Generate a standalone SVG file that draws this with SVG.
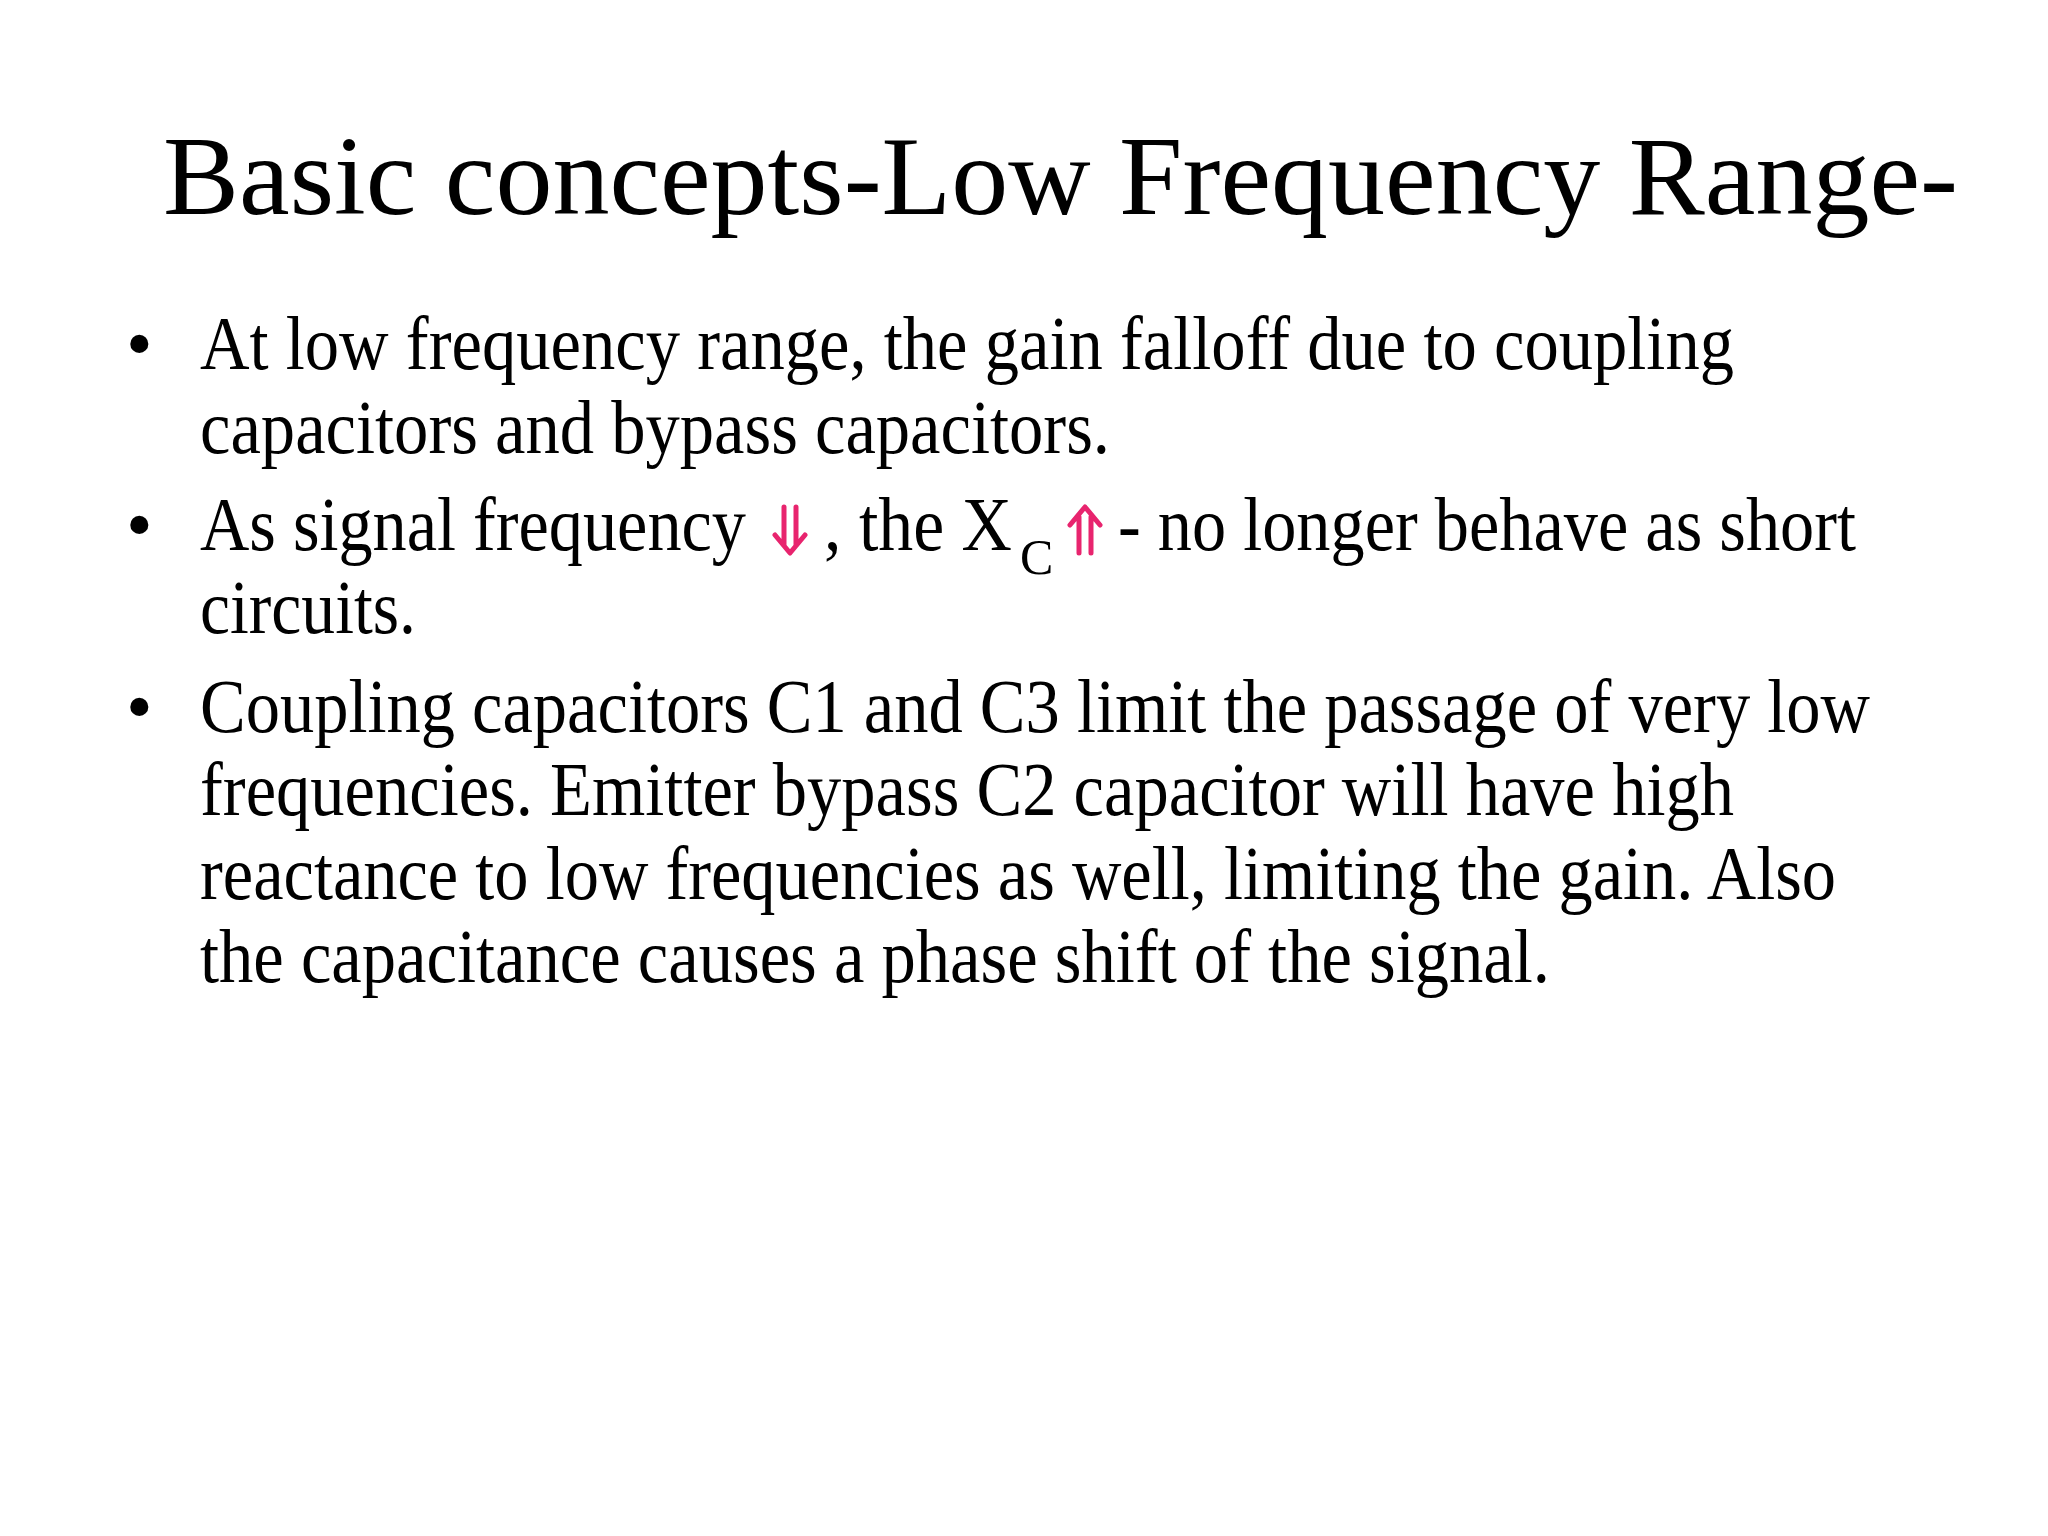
<svg xmlns="http://www.w3.org/2000/svg" width="2048" height="1536" viewBox="0 0 2048 1536">
<style>
.t{font-family:"Liberation Serif","Times New Roman",serif;fill:#000}
.b{font-size:76px}
.ar{fill:none;stroke:#e8246e;stroke-width:5;stroke-linecap:round;stroke-linejoin:round}
</style>
<rect width="2048" height="1536" fill="#fff"/>
<text class="t" x="163" y="214" font-size="112" textLength="1795" lengthAdjust="spacingAndGlyphs">Basic concepts-Low Frequency Range-</text>
<g class="t b">
<text x="126" y="369">•</text>
<text x="200" y="369" textLength="1534" lengthAdjust="spacingAndGlyphs">At low frequency range, the gain falloff due to coupling</text>
<text x="200" y="453" textLength="910" lengthAdjust="spacingAndGlyphs">capacitors and bypass capacitors.</text>
<text x="126" y="550">•</text>
<text x="200" y="550" textLength="546" lengthAdjust="spacingAndGlyphs">As signal frequency</text>
<text x="824" y="550" textLength="188" lengthAdjust="spacingAndGlyphs">, the X</text>
<text x="1020" y="574" font-size="50">C</text>
<text x="1118" y="550" textLength="738" lengthAdjust="spacingAndGlyphs">- no longer behave as short</text>
<text x="200" y="633" textLength="216" lengthAdjust="spacingAndGlyphs">circuits.</text>
<text x="126" y="732">•</text>
<text x="200" y="732" textLength="1670" lengthAdjust="spacingAndGlyphs">Coupling capacitors C1 and C3 limit the passage of very low</text>
<text x="200" y="815" textLength="1534" lengthAdjust="spacingAndGlyphs">frequencies. Emitter bypass C2 capacitor will have high</text>
<text x="200" y="899" textLength="1636" lengthAdjust="spacingAndGlyphs">reactance to low frequencies as well, limiting the gain. Also</text>
<text x="200" y="982" textLength="1350" lengthAdjust="spacingAndGlyphs">the capacitance causes a phase shift of the signal.</text>
</g>
<g id="arrows">
<path class="ar" d="M784 507 V545 M796 507 V545 M775 535 L790 553 L805 535"/>
<path class="ar" d="M1079 517 V553 M1091 517 V553 M1070 525 L1085 507 L1100 525"/>
</g>
</svg>
